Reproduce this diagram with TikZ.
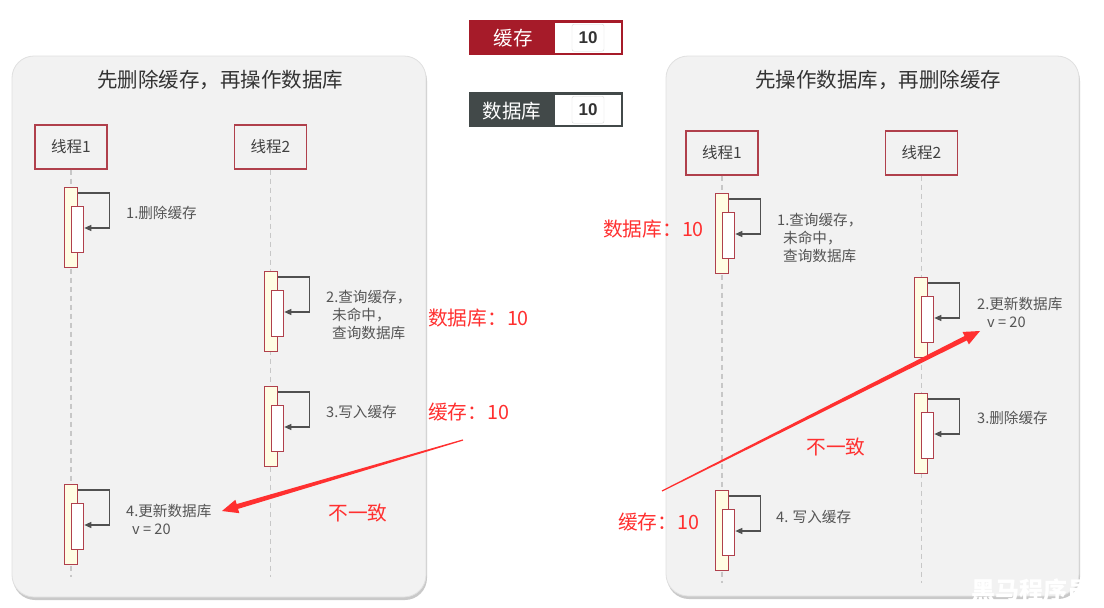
\documentclass[tikz,border=0pt]{standalone}
\usepackage{fontspec}
\setmainfont{Noto Sans CJK SC}
\newfontfamily\numfont{Liberation Sans}
\usetikzlibrary{arrows.meta,calc,shadows}
\definecolor{panel}{HTML}{F2F2F2}
\definecolor{barred}{HTML}{B0404C}
\definecolor{baryel}{HTML}{FFFDE3}
\definecolor{loopc}{HTML}{505050}
\definecolor{lblc}{HTML}{555555}
\definecolor{annred}{HTML}{FF3030}
\definecolor{cachered}{HTML}{A61B29}
\definecolor{dbgray}{HTML}{424949}
\tikzset{
 panelbox/.style={fill=panel, draw=black!12, line width=0.8pt, rounded corners=22pt,
   drop shadow={shadow xshift=1pt, shadow yshift=-3pt, opacity=0.35, fill=black!60}},
 threadbox/.style={draw=barred, line width=1.4pt, fill=panel, minimum width=72pt, minimum height=44pt,
   inner sep=0pt, font=\fontsize{15.5}{17}\selectfont, text=black!75},
 outerbar/.style={draw=barred, fill=baryel, line width=1.3pt, minimum width=12.5pt, minimum height=80pt,
   inner sep=0pt, anchor=north west},
 innerbar/.style={draw=barred, fill=white, line width=1.3pt, minimum width=12.5pt, minimum height=46pt,
   inner sep=0pt, anchor=north west},
 loopline/.style={draw=loopc, line width=1.3pt, -{Triangle[length=7pt,width=6pt]}},
 lifeline/.style={draw=black!22, line width=1.2pt, dash pattern=on 5pt off 4pt},
 steplbl/.style={anchor=west, inner sep=0pt, text=lblc, font=\fontsize{14.6}{18}\selectfont, align=left},
 titlelbl/.style={font=\fontsize{20.5}{22}\selectfont, text=black!80},
 annot/.style={text=annred, font=\fontsize{19.7}{22}\selectfont, inner sep=0pt},
 legendbox/.style={line width=1.5pt, minimum width=153pt, minimum height=33pt, inner sep=0pt},
 valbox/.style={draw=black!15, fill=white, rounded corners=2pt, minimum width=32pt, minimum height=27pt,
   inner sep=0pt, font=\numfont\bfseries\fontsize{17}{18}\selectfont, text=black!80},
}
\newcommand\actpair[3]{%
 \node[outerbar] (#1o) at (#2-7,#3) {};
 \node[innerbar] (#1i) at (#2-0.5,#3+19) {};
 \draw[loopline] ([yshift=-6pt]#1o.north east) -- ++(32,0) |- ([yshift=-22pt]#1i.north east);
}
\newcommand\redarrow[2]{%
 \coordinate (h) at ($(#2)!16pt!(#1)$);
 \fill[annred] ($(#1)!0.6pt!90:(#2)$) -- ($(h)!2.5pt!90:(#2)$) -- ($(h)!7pt!90:(#2)$) -- (#2)
   -- ($(h)!7pt!-90:(#2)$) -- ($(h)!2.5pt!-90:(#2)$) -- ($(#1)!0.6pt!-90:(#2)$) -- cycle;
}
\begin{document}
\begin{tikzpicture}[x=1pt,y=-1pt]
\useasboundingbox (0,0) rectangle (1104,608);
\fill[white] (0,0) rectangle (1104,608);

% panels
\path[panelbox] (12,56) rectangle (426,597);
\path[panelbox] (666,56) rectangle (1079,596);
\node[titlelbl] (lt) at (220,80) {先删除缓存，再操作数据库};
\node[titlelbl] (rt) at (878,80) {先操作数据库，再删除缓存};

% legend
\node[legendbox, draw=cachered, fill=cachered] (cache) at (546,37.7) {};
\fill[white] (555,22.5) rectangle (621,53);
\node[text=white, font=\fontsize{19.5}{20}\selectfont] (cachet) at (513,38) {缓存};
\node[valbox] (cachev) at (588,37.7) {10};
\node[legendbox, draw=dbgray, fill=dbgray] (db) at (546,109.7) {};
\fill[white] (555,94.5) rectangle (621,125);
\node[text=white, font=\fontsize{19.5}{20}\selectfont] (dbt) at (512,111) {数据库};
\node[valbox] (dbv) at (588,109.7) {10};

% left panel
\node[threadbox] (t1) at (71,147) {线程1};
\node[threadbox] (t2) at (270.5,147) {线程2};
\coordinate (e1) at (71,577);
\coordinate (e2) at (270.5,577);
\draw[lifeline] (t1.south) -- (e1);
\draw[lifeline] (t2.south) -- (e2);
\actpair{a}{71}{187}
\actpair{b}{271}{271}
\actpair{c}{271}{386}
\actpair{d}{71}{484}
\node[steplbl] (la) at (126,213) {1.删除缓存};
\node[steplbl] (lb) at (326,314.5) {2.查询缓存，\\\hspace{6pt}未命中，\\\hspace{6pt}查询数据库};
\node[steplbl] (lc) at (326,412) {3.写入缓存};
\node[steplbl] (ld) at (126,519) {4.更新数据库\\\hspace{6pt}v = 20};
\node[annot, anchor=west] (ldb) at (428,318) {数据库：10};
\node[annot, anchor=west] (lca) at (428,412) {缓存：10};
\node[annot] (lbad) at (358,513) {不一致};
\coordinate (lat) at (463,440);
\coordinate (lah) at (222,511);
\redarrow{lat}{lah}

% right panel
\node[threadbox] (t3) at (722,153) {线程1};
\node[threadbox] (t4) at (921.5,153) {线程2};
\coordinate (e3) at (722,583);
\coordinate (e4) at (921.5,583);
\draw[lifeline] (t3.south) -- (e3);
\draw[lifeline] (t4.south) -- (e4);
\actpair{p}{722}{193}
\actpair{q}{921}{277}
\actpair{r}{921}{393}
\actpair{s}{722}{490}
\node[steplbl] (lp) at (777,238) {1.查询缓存，\\\hspace{6pt}未命中，\\\hspace{6pt}查询数据库};
\node[steplbl] (lq) at (977,312) {2.更新数据库\\\hspace{10pt}v = 20};
\node[steplbl] (lr) at (977,418) {3.删除缓存};
\node[steplbl] (ls) at (776,517) {4. 写入缓存};
\node[annot, anchor=west] (rdb) at (603,229.5) {数据库：10};
\node[annot, anchor=west] (rca) at (618,522) {缓存：10};
\node[annot] (rbad) at (836,447) {不一致};
\coordinate (rat) at (662,491);
\coordinate (rah) at (980,331);
\redarrow{rat}{rah}

% watermark
\node[text=white, font=\fontsize{24}{26}\selectfont\bfseries, anchor=west] (wm) at (968,590) {黑马程序员};
\end{tikzpicture}
\end{document}
